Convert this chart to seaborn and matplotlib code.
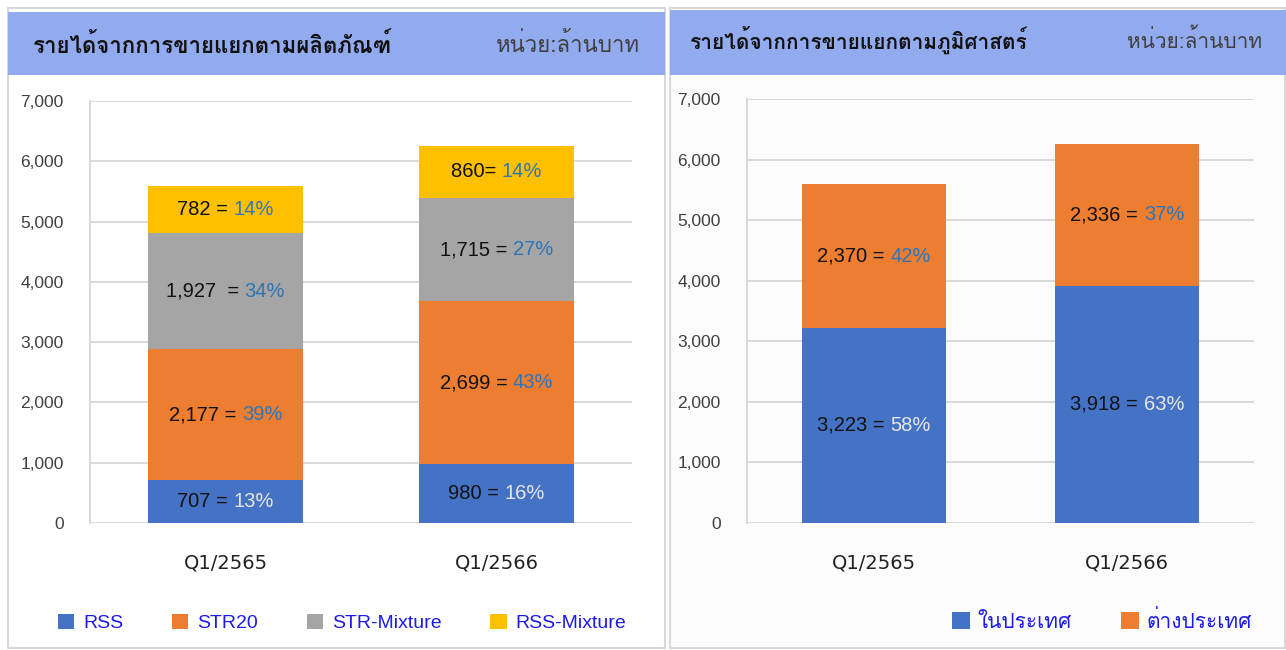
import numpy as np
import pandas as pd
import matplotlib
matplotlib.use("Agg")
import matplotlib.pyplot as plt
import seaborn as sns
from matplotlib import font_manager as fm
from matplotlib.patches import Rectangle
from matplotlib.offsetbox import TextArea, HPacker, AnnotationBbox
from matplotlib.ticker import FuncFormatter

# ---------------- data ----------------
quarters = ["Q1/2565", "Q1/2566"]

product_names = ["RSS", "STR20", "STR-Mixture", "RSS-Mixture"]
rss = [707, 980]
str20 = [2177, 2699]
str_mixture = [1927, 1715]
rss_mixture = [782, 860]
product_pct = [["13%", "16%"], ["39%", "43%"], ["34%", "27%"], ["14%", "14%"]]
product_num_txt = [["707 = ", "980 = "], ["2,177 = ", "2,699 = "],
                   ["1,927  = ", "1,715 = "], ["782 = ", "860= "]]

geo_names = ["ในประเทศ", "ต่างประเทศ"]
domestic = [3223, 3918]
foreign = [2370, 2336]
geo_pct = [["58%", "63%"], ["42%", "37%"]]
geo_num_txt = [["3,223 = ", "3,918 = "], ["2,370 = ", "2,336 = "]]

title_left = "รายได้จากการขายแยกตามผลิตภัณฑ์"
title_right = "รายได้จากการขายแยกตามภูมิศาสตร์"
unit_text = "หน่วย:ล้านบาท"
y_ticks = [0, 1000, 2000, 3000, 4000, 5000, 6000, 7000]

# ---------------- fonts ----------------
def find_thai_font():
    try:
        from fontTools.ttLib import TTFont
    except Exception:
        return None
    for f in fm.fontManager.ttflist:
        try:
            tt = TTFont(f.fname, fontNumber=0, lazy=True)
            cmap = tt.getBestCmap()
            if cmap and 0x0E23 in cmap and 0x0E32 in cmap and 0x0E01 in cmap:
                return f.name
        except Exception:
            continue
    return None

sns.set_theme(style="white")
thai = find_thai_font()
base = "Liberation Sans"
fam = [base, "DejaVu Sans"]
thai_fam = ([thai] if thai else []) + [base, "DejaVu Sans"]
plt.rcParams["font.family"] = fam

COL_BLUE = "#4472C4"
COL_ORANGE = "#ED7D31"
COL_GRAY = "#A5A5A5"
COL_YELLOW = "#FFC000"
PCT_BLUE = "#2E75B6"
PCT_WHITE = "#E6E6E6"
HEADER = "#92AAEE"
GRID = "#D9D9D9"
TICK = "#404040"
LEG = "#1C1CE8"

W, H = 1286, 650
fig = plt.figure(figsize=(W / 100, H / 100), dpi=100)

def fx(px):
    return px / W

def fy(py):
    return 1 - py / H

# panel frames and header bands
fig.add_artist(Rectangle((fx(8), fy(648)), fx(657), (640) / H, transform=fig.transFigure,
                         facecolor="white", edgecolor=GRID, lw=1.5, zorder=0))
fig.add_artist(Rectangle((fx(670), fy(648)), fx(615), (640) / H, transform=fig.transFigure,
                         facecolor="#FCFCFC", edgecolor=GRID, lw=1.5, zorder=0))
fig.add_artist(Rectangle((fx(8), fy(75)), fx(657), 63 / H, transform=fig.transFigure,
                         facecolor=HEADER, edgecolor="none", zorder=1))
fig.add_artist(Rectangle((fx(670), fy(75)), fx(616), 65 / H, transform=fig.transFigure,
                         facecolor=HEADER, edgecolor="none", zorder=1))

fig.text(fx(33), fy(45), title_left, family=thai_fam, fontsize=16, fontweight="bold",
         color="#111111", va="center", ha="left", zorder=2)
fig.text(fx(640), fy(45), unit_text, family=thai_fam, fontsize=16,
         color="#404040", va="center", ha="right", zorder=2)
fig.text(fx(690), fy(40), title_right, family=thai_fam, fontsize=15, fontweight="bold",
         color="#111111", va="center", ha="left", zorder=2)
fig.text(fx(1262), fy(40), unit_text, family=thai_fam, fontsize=15,
         color="#404040", va="center", ha="right", zorder=2)

ax1 = fig.add_axes([fx(90), fy(523), fx(632 - 90), (523 - 101) / H])
ax2 = fig.add_axes([fx(747), fy(523), fx(1254 - 747), (523 - 99) / H])

def stacked(ax, names, series, colors):
    cums = np.cumsum(np.array(series, dtype=float), axis=0)
    # draw from the top layer down, so lower layers cover upper ones
    for i in range(len(series) - 1, -1, -1):
        d = pd.DataFrame({"quarter": quarters, "value": cums[i]})
        sns.barplot(data=d, x="quarter", y="value", color=colors[i], width=0.57,
                    saturation=1, label=names[i], ax=ax, zorder=3, linewidth=0)
    lg = ax.get_legend()
    if lg is not None:
        lg.remove()
    return cums

def style_axes(ax):
    ax.set_facecolor("none")
    ax.set_ylim(0, 7000)
    ax.set_xlim(-0.5, 1.5)
    ax.set_yticks(y_ticks)
    ax.yaxis.set_major_formatter(FuncFormatter(lambda v, p: f"{int(v):,}"))
    ax.grid(axis="y", color=GRID, lw=1.4, zorder=0)
    for s in ["top", "right", "bottom"]:
        ax.spines[s].set_visible(False)
    ax.spines["left"].set_color(GRID)
    ax.spines["left"].set_linewidth(1.4)
    ax.set_xlabel("")
    ax.set_ylabel("")
    ax.tick_params(axis="y", length=0, pad=19, labelsize=12.5, labelcolor=TICK)
    ax.tick_params(axis="x", length=0, pad=22, labelcolor="#222222")
    for t in ax.get_xticklabels():
        t.set_family(["DejaVu Sans"])
        t.set_fontsize(14)

def label(ax, x, y, num, pct, pct_color):
    t1 = TextArea(num, textprops=dict(color="#111111", fontsize=14.5, family=fam))
    t2 = TextArea(pct, textprops=dict(color=pct_color, fontsize=14.5, family=fam))
    box = HPacker(children=[t1, t2], align="baseline", pad=0, sep=0)
    ab = AnnotationBbox(box, (x, y), xycoords="data", frameon=False, box_alignment=(0.5, 0.5),
                        zorder=5)
    ax.add_artist(ab)

# left chart
prod_series = [rss, str20, str_mixture, rss_mixture]
prod_colors = [COL_BLUE, COL_ORANGE, COL_GRAY, COL_YELLOW]
cum1 = stacked(ax1, product_names, prod_series, prod_colors)
style_axes(ax1)
for i, s in enumerate(prod_series):
    for j in range(len(quarters)):
        mid = cum1[i][j] - s[j] / 2
        label(ax1, j, mid, product_num_txt[i][j], product_pct[i][j],
              PCT_WHITE if i == 0 else PCT_BLUE)

# right chart
geo_series = [domestic, foreign]
geo_colors = [COL_BLUE, COL_ORANGE]
cum2 = stacked(ax2, geo_names, geo_series, geo_colors)
style_axes(ax2)
for i, s in enumerate(geo_series):
    for j in range(len(quarters)):
        mid = cum2[i][j] - s[j] / 2
        label(ax2, j, mid, geo_num_txt[i][j], geo_pct[i][j],
              PCT_WHITE if i == 0 else PCT_BLUE)

# legends
h1, l1 = ax1.get_legend_handles_labels()
h1, l1 = h1[::-1], l1[::-1]
leg1 = fig.legend(h1, l1, loc="center", bbox_to_anchor=(fx(342), fy(623)), ncol=4,
                  frameon=False, handlelength=0.85, handleheight=0.85,
                  handletextpad=0.45, columnspacing=2.5, prop={"family": fam, "size": 14})
for t in leg1.get_texts():
    t.set_color(LEG)

h2, l2 = ax2.get_legend_handles_labels()
h2, l2 = h2[::-1], l2[::-1]
leg2 = fig.legend(h2, l2, loc="center", bbox_to_anchor=(fx(1102), fy(621)), ncol=2,
                  frameon=False, handlelength=0.85, handleheight=0.85,
                  handletextpad=0.35, columnspacing=2.4, prop={"family": thai_fam, "size": 15})
for t in leg2.get_texts():
    t.set_color(LEG)

fig.savefig("out.png", dpi=100)
